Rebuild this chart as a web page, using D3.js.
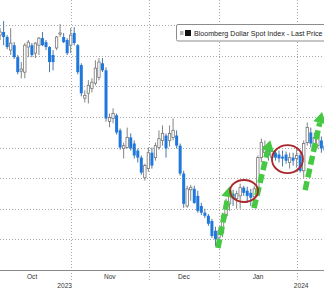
<!DOCTYPE html>
<html>
<head>
<meta charset="utf-8">
<script src="https://cdn.jsdelivr.net/npm/d3@7"></script>
<style>
  html, body { margin: 0; padding: 0; background: #fff; }
  svg { display: block; font-family: "Liberation Sans", Arial, sans-serif; }
</style>
</head>
<body>
<div id="chart"></div>
<script>
var width = 324, height = 288;

// trading days shown: Oct 2 2023 .. Feb 12 2024
var holidays = ["2023-12-25", "2024-01-01"];
var fmt = d3.timeFormat("%Y-%m-%d");
var days = d3.timeDay.range(new Date(2023, 9, 2), new Date(2024, 1, 13))
  .filter(function(d) { return d.getDay() > 0 && d.getDay() < 6 && holidays.indexOf(fmt(d)) < 0; });

// Bloomberg Dollar Spot Index, daily OHLC
var open = [
  1278.4, 1276.7, 1277.7, 1276.1, 1271.8, 1273.4, 1269.5, 1264.9, 1264.6, 1272.8,
  1273.4, 1270.8, 1273.4, 1275.7, 1274.4, 1272.8, 1270.2, 1272.5, 1277.0, 1276.1,
  1275.1, 1273.4, 1277.4, 1273.4, 1266.9, 1256.1, 1257.7, 1259.3, 1261.0, 1262.9,
  1267.5, 1265.2, 1248.5, 1249.5, 1250.5, 1245.6, 1239.7, 1240.0, 1243.3, 1241.3,
  1239.0, 1236.7, 1230.1, 1233.1, 1238.3, 1236.7, 1240.0, 1242.3, 1243.9, 1242.3,
  1243.3, 1243.9, 1240.6, 1231.5, 1220.9, 1226.2, 1226.5, 1224.2, 1220.9, 1218.7,
  1217.7, 1216.0, 1212.8, 1210.5, 1212.1, 1217.7, 1221.6, 1224.9, 1223.3, 1224.2,
  1226.9, 1225.9, 1225.2, 1223.9, 1225.9, 1236.7, 1238.3, 1240.3, 1236.7, 1238.3,
  1237.7, 1237.0, 1237.7, 1235.1, 1236.7, 1236.4, 1237.4, 1232.4, 1241.6, 1244.9,
  1241.3, 1240.6, 1242.3, 1240.6
];
var high = [
  1280.0, 1279.0, 1281.3, 1276.7, 1279.0, 1274.4, 1270.2, 1267.9, 1274.1, 1275.1,
  1274.1, 1274.4, 1276.1, 1277.7, 1275.1, 1273.1, 1271.8, 1276.4, 1280.3, 1277.4,
  1275.7, 1279.0, 1279.3, 1273.8, 1267.5, 1258.7, 1262.0, 1262.6, 1268.5, 1269.2,
  1269.2, 1266.2, 1251.1, 1252.8, 1251.1, 1246.2, 1241.6, 1246.5, 1244.6, 1242.3,
  1239.7, 1237.4, 1234.7, 1240.0, 1240.0, 1241.6, 1245.6, 1247.2, 1244.6, 1247.2,
  1249.5, 1245.6, 1241.3, 1232.4, 1227.5, 1227.8, 1227.5, 1225.9, 1221.9, 1220.0,
  1218.3, 1216.7, 1214.1, 1214.1, 1218.7, 1223.3, 1226.5, 1226.2, 1225.9, 1228.2,
  1227.5, 1227.2, 1226.5, 1227.5, 1237.4, 1242.9, 1242.3, 1241.3, 1239.7, 1239.3,
  1239.0, 1239.0, 1238.7, 1238.3, 1238.3, 1239.7, 1238.3, 1242.3, 1248.2, 1246.5,
  1244.9, 1244.9, 1243.6, 1242.3
];
var low = [
  1275.1, 1275.1, 1273.4, 1272.1, 1270.2, 1268.9, 1263.9, 1262.6, 1262.6, 1269.5,
  1269.5, 1269.2, 1270.2, 1273.1, 1271.8, 1264.6, 1265.2, 1271.8, 1276.1, 1274.1,
  1270.2, 1270.8, 1273.4, 1263.9, 1256.7, 1254.7, 1254.4, 1258.0, 1260.3, 1261.9,
  1264.6, 1248.5, 1246.6, 1247.9, 1244.2, 1239.3, 1236.4, 1239.7, 1239.0, 1236.4,
  1235.1, 1231.1, 1229.2, 1232.1, 1233.1, 1235.7, 1239.3, 1240.6, 1236.7, 1240.3,
  1242.3, 1239.7, 1230.8, 1220.3, 1220.3, 1222.6, 1221.6, 1218.7, 1218.0, 1217.0,
  1214.4, 1210.5, 1207.8, 1208.8, 1210.8, 1216.7, 1219.3, 1220.9, 1220.0, 1220.0,
  1224.2, 1221.9, 1220.9, 1222.6, 1225.2, 1235.1, 1237.0, 1235.7, 1235.7, 1235.7,
  1235.1, 1233.8, 1234.7, 1233.1, 1234.1, 1233.4, 1231.8, 1230.1, 1240.6, 1240.0,
  1239.7, 1239.7, 1238.3, 1237.4
];
var close = [
  1276.7, 1277.7, 1276.1, 1272.8, 1274.1, 1269.5, 1264.6, 1265.6, 1273.4, 1274.4,
  1270.2, 1274.1, 1275.7, 1273.4, 1272.8, 1267.9, 1267.9, 1276.1, 1277.4, 1274.4,
  1270.8, 1276.7, 1274.1, 1264.6, 1257.7, 1257.0, 1260.3, 1261.3, 1265.9, 1267.9,
  1265.2, 1249.5, 1249.8, 1251.1, 1244.9, 1240.0, 1240.6, 1243.3, 1239.7, 1237.4,
  1236.7, 1231.8, 1234.1, 1238.3, 1234.1, 1240.6, 1242.9, 1244.6, 1239.7, 1244.6,
  1245.6, 1240.6, 1231.5, 1221.6, 1226.5, 1226.9, 1221.9, 1219.3, 1218.7, 1217.7,
  1215.1, 1211.1, 1210.1, 1212.8, 1217.7, 1221.6, 1224.9, 1223.3, 1224.9, 1226.9,
  1225.2, 1224.2, 1223.6, 1226.5, 1236.7, 1241.6, 1240.3, 1237.4, 1238.7, 1236.7,
  1236.4, 1236.4, 1235.7, 1236.7, 1235.7, 1237.4, 1232.4, 1241.3, 1246.5, 1241.3,
  1243.3, 1243.9, 1239.7, 1239.0
];

var gridTicks = [1210, 1220, 1230, 1240, 1250, 1260, 1270, 1280];
var monthLabels = ["Oct", "Nov", "Dec", "Jan"];
var yearLabels = ["2023", "2024"];
var yearAt = ["2023-10-27", "2024-02-01"];

// annotations (in day index / index level)
var arrowFrom = [[62.7, 1207.2], [72.9, 1220.2], [87.4, 1226.1]];
var arrowTo   = [[66.1, 1227.4], [77.5, 1242.4], [92.2, 1251.6]];
var rings     = [[70.1, 1225.8], [82.4, 1236.2]];
var legendLabel = "Bloomberg Dollar Spot Index - Last Price";

var svg = d3.select("#chart").append("svg")
  .attr("width", width)
  .attr("height", height);

svg.append("rect").attr("width", width).attr("height", height).attr("fill", "#fff");

var x = d3.scaleLinear().domain([0, days.length - 1]).range([-3.44, 324.9]);
var y = d3.scaleLinear().domain([1200, 1280]).range([270, 25]);

// first trading day of every month
var monthStarts = [];
days.forEach(function(d, i) {
  if (i === 0 || d.getMonth() !== days[i - 1].getMonth()) monthStarts.push(i);
});
function bound(i) { return x(i - 0.93); }

/* grid */
svg.append("g").selectAll("line")
  .data(gridTicks)
  .join("line")
  .attr("x1", 0).attr("x2", width)
  .attr("y1", function(d) { return Math.round(y(d)) + 0.5; })
  .attr("y2", function(d) { return Math.round(y(d)) + 0.5; })
  .attr("stroke", "#a8a8a8")
  .attr("stroke-dasharray", "1,2");

svg.append("g").selectAll("line")
  .data(monthStarts.slice(1))
  .join("line")
  .attr("x1", function(i) { return Math.round(bound(i)) + 0.5; })
  .attr("x2", function(i) { return Math.round(bound(i)) + 0.5; })
  .attr("y1", 0).attr("y2", 282)
  .attr("stroke", "#a8a8a8")
  .attr("stroke-dasharray", "1,2");

svg.append("line")
  .attr("x1", 0).attr("x2", width)
  .attr("y1", y(1200) + 0.5).attr("y2", y(1200) + 0.5)
  .attr("stroke", "#8a8a8a");

/* candles */
var blue = "#1f78dc", grey = "#767676";
var candles = svg.append("g").selectAll("g")
  .data(days.map(function(d, i) { return i; }))
  .join("g");

candles.append("line")
  .attr("x1", function(i) { return x(i); })
  .attr("x2", function(i) { return x(i); })
  .attr("y1", function(i) { return y(high[i]); })
  .attr("y2", function(i) { return y(low[i]); })
  .attr("stroke", function(i) { return close[i] >= open[i] ? grey : "#3a679c"; })
  .attr("stroke-width", 0.9);

candles.append("rect")
  .attr("x", function(i) { return x(i) - (close[i] >= open[i] ? 1.2 : 1.5); })
  .attr("width", function(i) { return close[i] >= open[i] ? 2.4 : 3.0; })
  .attr("y", function(i) { return y(Math.max(open[i], close[i])); })
  .attr("height", function(i) { return Math.max(0.8, Math.abs(y(open[i]) - y(close[i]))); })
  .attr("fill", function(i) { return close[i] >= open[i] ? "#fff" : blue; })
  .attr("stroke", function(i) { return close[i] >= open[i] ? grey : "none"; })
  .attr("stroke-width", 0.8);

/* green dashed arrows */
var green = "#46c942";
var arrows = svg.append("g");
arrowFrom.forEach(function(a, k) {
  var b = arrowTo[k];
  var x0 = x(a[0]), y0 = y(a[1]), x1 = x(b[0]), y1 = y(b[1]);
  var len = Math.hypot(x1 - x0, y1 - y0);
  var ux = (x1 - x0) / len, uy = (y1 - y0) / len;
  var hl = 11, hw = 6.5;
  var bx = x1 - ux * hl, by = y1 - uy * hl;
  arrows.append("line")
    .attr("x1", x0).attr("y1", y0)
    .attr("x2", bx).attr("y2", by)
    .attr("stroke", green)
    .attr("stroke-width", 5.5)
    .attr("stroke-dasharray", "9,4");
  arrows.append("path")
    .attr("d", "M" + x1 + "," + y1 +
      "L" + (bx - uy * hw) + "," + (by + ux * hw) +
      "L" + (bx + uy * hw) + "," + (by - ux * hw) + "Z")
    .attr("fill", green);
});

/* red rings */
svg.append("g").selectAll("ellipse")
  .data(rings)
  .join("ellipse")
  .attr("cx", function(d) { return x(d[0]); })
  .attr("cy", function(d) { return y(d[1]); })
  .attr("rx", function(d, k) { return k === 0 ? 14 : 15.5; })
  .attr("ry", function(d, k) { return k === 0 ? 11 : 14; })
  .attr("fill", "none")
  .attr("stroke", "#a8282c")
  .attr("stroke-width", 1.8);

/* axis labels */
svg.append("g").selectAll("text")
  .data(monthLabels)
  .join("text")
  .attr("x", function(d, k) { return (bound(monthStarts[k]) + bound(monthStarts[k + 1])) / 2; })
  .attr("y", 279)
  .attr("text-anchor", "middle")
  .attr("font-size", 6.6)
  .attr("fill", "#333")
  .text(function(d) { return d; });

svg.append("g").selectAll("text")
  .data(yearLabels)
  .join("text")
  .attr("x", function(d, k) { return x(days.map(fmt).indexOf(yearAt[k])) + 1; })
  .attr("y", 287.5)
  .attr("text-anchor", "middle")
  .attr("font-size", 6.6)
  .attr("fill", "#333")
  .text(function(d) { return d; });

/* legend */
var legend = svg.append("g");
legend.append("rect")
  .attr("x", 176.5).attr("y", 24.5)
  .attr("width", 160).attr("height", 16.5)
  .attr("rx", 1.5)
  .attr("fill", "#fff")
  .attr("stroke", "#8c8c8c");
legend.append("rect")
  .attr("x", 180).attr("y", 31)
  .attr("width", 3.5).attr("height", 4)
  .attr("fill", "#b8b8b8");
legend.append("rect")
  .attr("x", 185).attr("y", 30)
  .attr("width", 6).attr("height", 6)
  .attr("fill", "#111");
legend.append("text")
  .attr("x", 194).attr("y", 36.2)
  .attr("font-size", 7.1)
  .attr("fill", "#222")
  .text(legendLabel);
</script>
</body>
</html>
